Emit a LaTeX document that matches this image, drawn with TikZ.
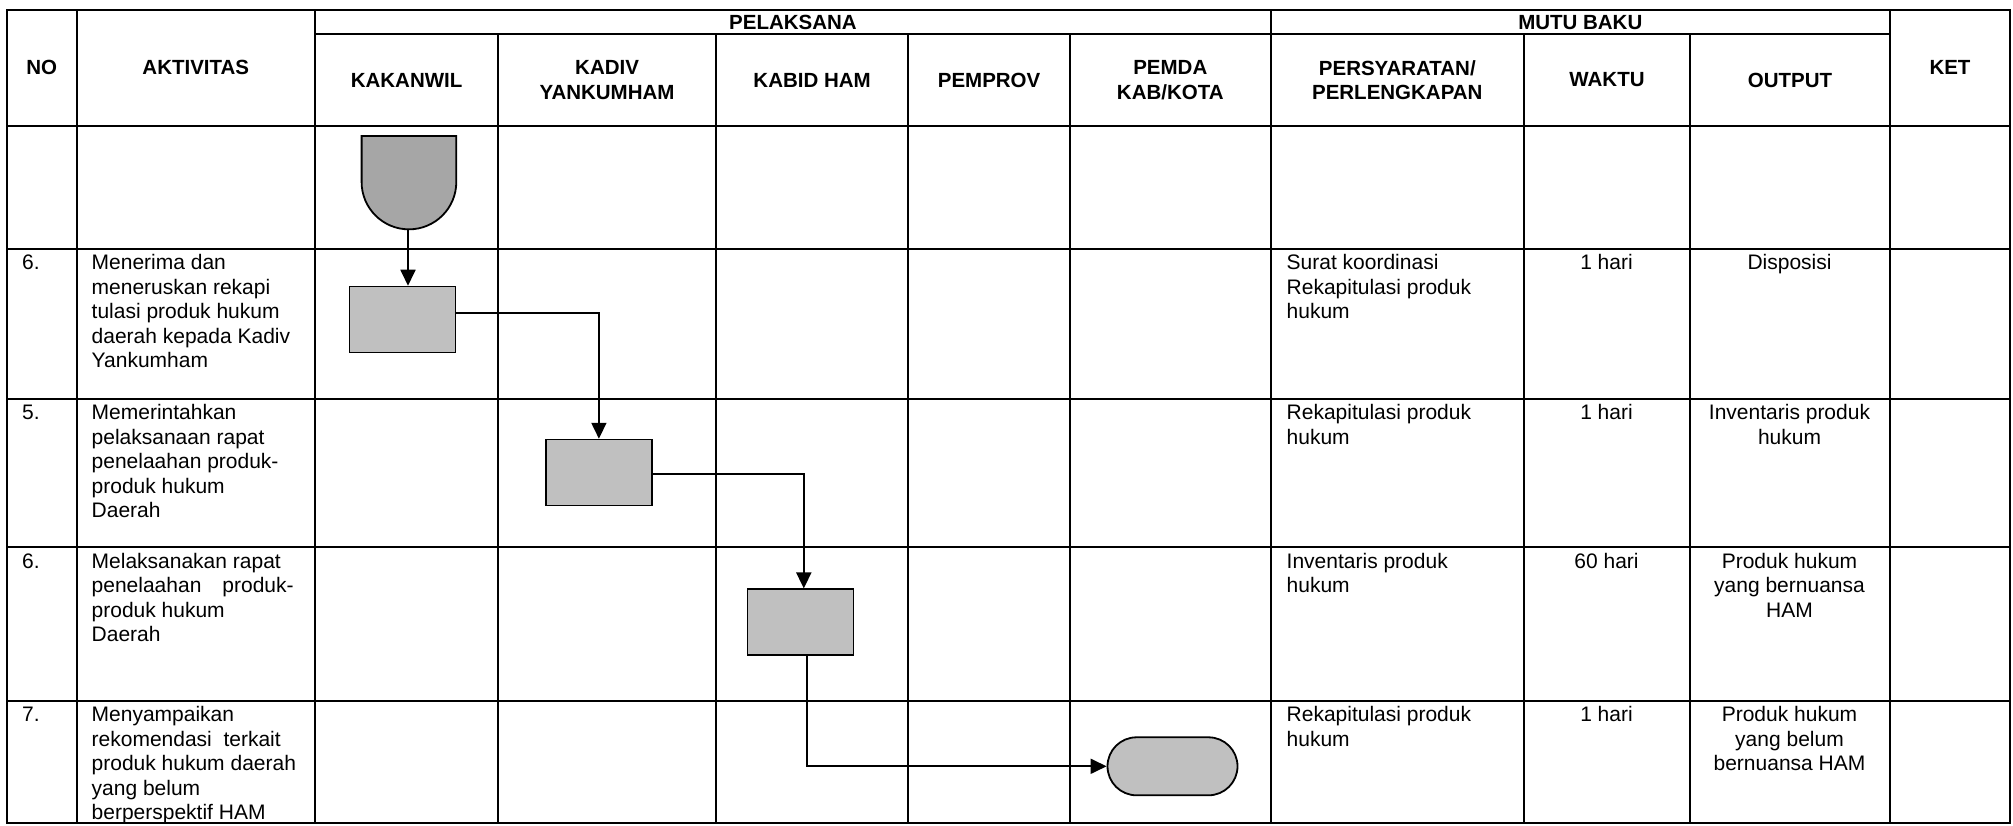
\documentclass[tikz,border=0pt]{standalone}
\usepackage{fontspec}
\setmainfont{Liberation Sans}
\usetikzlibrary{arrows.meta}
\definecolor{boxgray}{HTML}{C0C0C0}
\definecolor{termgray}{HTML}{A6A6A6}
\begin{document}
\begin{tikzpicture}[x=1pt,y=-1pt,
  grid/.style={line width=2pt},
  hdr/.style={font=\fontsize{20.5}{24.5}\selectfont\bfseries, align=center, inner sep=0pt},
  cell/.style={inner sep=0pt, anchor=base west, font=\fontsize{21}{24.5}\selectfont},
  ccell/.style={inner sep=0pt, anchor=base, font=\fontsize{21}{24.5}\selectfont},
  proc/.style={draw, line width=1.5pt, fill=boxgray, minimum width=106pt, minimum height=66pt, inner sep=0pt},
  conn/.style={line width=1.8pt, -{Triangle[length=16pt,width=15pt]}},
  wire/.style={line width=1.8pt}
]
\useasboundingbox (0,0) rectangle (2013,826);
% ---------- grid ----------
\draw[grid] (7,10) rectangle (2010,823);
\draw[grid] (315,34.3) -- (1890,34.3);
\foreach \y in {126,249,398.5,547,701} \draw[grid] (7,\y) -- (2010,\y);
\foreach \x in {76.7,315,1270.7,1890} \draw[grid] (\x,10) -- (\x,823);
\foreach \x in {498.3,716,908.3,1070,1524,1690} \draw[grid] (\x,34.3) -- (\x,823);
% ---------- headers ----------
\node[hdr] (hno) at (41.7,67.5) {NO};
\node[hdr] (hakt) at (195.8,67.5) {AKTIVITAS};
\node[hdr] (hpel) at (793,22.5) {PELAKSANA};
\node[hdr] (hmutu) at (1580.3,22.5) {MUTU BAKU};
\node[hdr] (hket) at (1950,67.5) {KET};
\node[hdr] (hkak) at (406.6,80) {KAKANWIL};
\node[hdr] (hkad) at (607.1,80) {KADIV\\YANKUMHAM};
\node[hdr] (hkab) at (812.1,80) {KABID HAM};
\node[hdr] (hpemp) at (989.1,80) {PEMPROV};
\node[hdr] (hpemd) at (1170.3,80) {PEMDA\\KAB/KOTA};
\node[hdr] (hpers) at (1397.3,80) {PERSYARATAN/\\PERLENGKAPAN};
\node[hdr] (hwak) at (1607,80) {WAKTU};
\node[hdr] (hout) at (1790,80) {OUTPUT};
% ---------- NO column ----------
\node[cell] (n1) at (22,270) {6.};
\node[cell] (n2) at (22,419.5) {5.};
\node[cell] (n3) at (22,568) {6.};
\node[cell] (n4) at (22,721.5) {7.};
% ---------- AKTIVITAS ----------
\node[cell] (a1) at (91.5,270) {\parbox[t]{220pt}{\raggedright Menerima dan\\meneruskan rekapi\\tulasi produk hukum\\daerah kepada Kadiv\\Yankumham}};
\node[cell] (a2) at (91.5,419.5) {\parbox[t]{220pt}{\raggedright Memerintahkan\\pelaksanaan rapat\\penelaahan produk-\\produk hukum\\Daerah}};
\node[cell] (a3) at (91.5,568) {\parbox[t]{220pt}{\raggedright Melaksanakan rapat\\penelaahan\hspace{21pt}produk-\\produk hukum\\Daerah}};
\node[cell] (a4) at (91.5,721.5) {\parbox[t]{220pt}{\raggedright Menyampaikan\\rekomendasi\ \ terkait\\produk hukum daerah\\yang belum\\berperspektif HAM}};
% ---------- PERSYARATAN ----------
\node[cell] (p1) at (1286.5,270) {\parbox[t]{230pt}{\raggedright Surat koordinasi\\Rekapitulasi produk\\hukum}};
\node[cell] (p2) at (1286.5,419.5) {\parbox[t]{230pt}{\raggedright Rekapitulasi produk\\hukum}};
\node[cell] (p3) at (1286.5,568) {\parbox[t]{230pt}{\raggedright Inventaris produk\\hukum}};
\node[cell] (p4) at (1286.5,721.5) {\parbox[t]{230pt}{\raggedright Rekapitulasi produk\\hukum}};
% ---------- WAKTU ----------
\node[ccell] (w1) at (1606.5,270) {1 hari};
\node[ccell] (w2) at (1606.5,419.5) {1 hari};
\node[ccell] (w3) at (1606.5,568) {60 hari};
\node[ccell] (w4) at (1606.5,721.5) {1 hari};
% ---------- OUTPUT ----------
\node[ccell] (o1) at (1789.5,270) {\parbox[t]{190pt}{\centering Disposisi}};
\node[ccell] (o2) at (1789.5,419.5) {\parbox[t]{190pt}{\centering Inventaris produk\\hukum}};
\node[ccell] (o3) at (1789.5,568) {\parbox[t]{190pt}{\centering Produk hukum\\yang bernuansa\\HAM}};
\node[ccell] (o4) at (1789.5,721.5) {\parbox[t]{190pt}{\centering Produk hukum\\yang belum\\bernuansa HAM}};
% ---------- flow shapes ----------
\node[inner sep=0pt, minimum width=94.7pt, minimum height=93.3pt] (s) at (409,182.7) {};
\draw[wire, fill=termgray] (361.6,136) -- (456.3,136) -- (456.3,182)
   arc[start angle=0, end angle=-180, radius=47.35pt] -- cycle;
\coordinate (sb) at (408,229.3);
\node[proc] (b1) at (402.5,319.5) {};
\node[proc] (b2) at (598.9,472.5) {};
\node[proc] (b3) at (800.3,622.2) {};
\node[draw, line width=1.8pt, fill=boxgray, rounded corners=29pt, minimum width=130pt, minimum height=58pt, inner sep=0pt] (e) at (1172.5,766.3) {};
% ---------- connectors ----------
\draw[conn] (sb) -- (sb |- b1.north);
\draw[conn] ([yshift=6.8pt]b1.east) -| (b2.north);
\draw[conn] ([yshift=-1.5pt]b2.east) -| ([xshift=3.5pt]b3.north);
\draw[conn] ([xshift=6.4pt]b3.south) |- (e.west);
\end{tikzpicture}
\end{document}
